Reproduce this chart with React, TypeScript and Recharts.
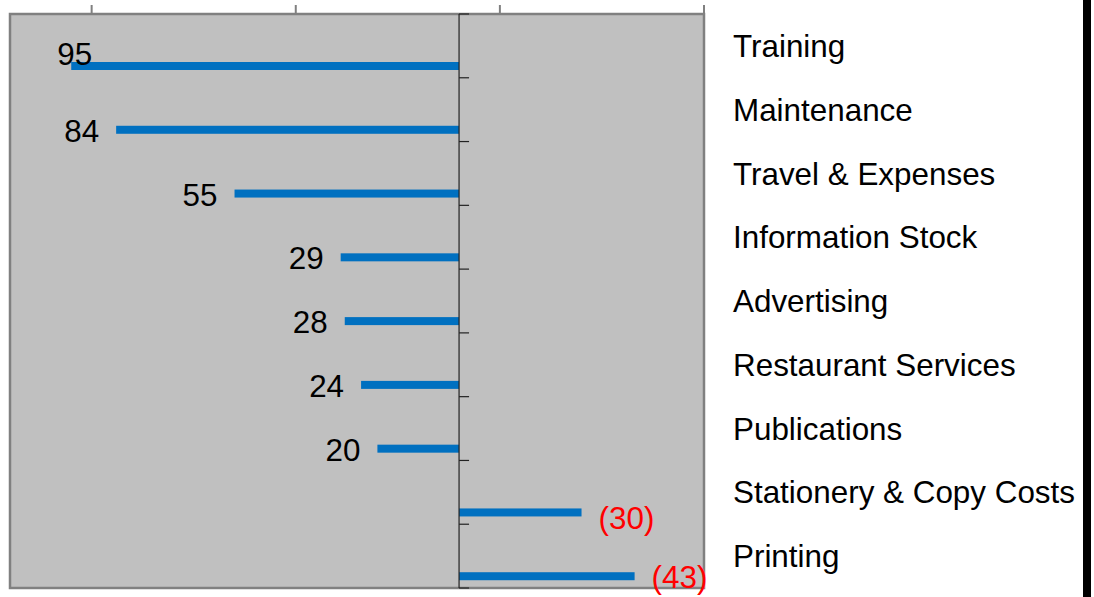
import React from "react";
import {
  BarChart,
  Bar,
  XAxis,
  YAxis,
  CartesianGrid,
  ReferenceLine,
  ReferenceArea,
  LabelList,
} from "recharts";

const categories = [
  "Training",
  "Maintenance",
  "Travel & Expenses",
  "Information Stock",
  "Advertising",
  "Restaurant Services",
  "Publications",
  "Stationery & Copy Costs",
  "Printing",
];
const values = [95, 84, 55, 29, 28, 24, 20, -30, -43];
const xTicks = [-60, -10, 40, 90];

const data = categories.map((name, i) => ({ name, value: values[i] }));

const FONT = '"Liberation Sans", Arial, sans-serif';
const BAR_SHIFT = 20; // bars sit in the lower part of each row, like the original
const rowCount = categories.length;

// small hand nudges for labels Excel moved
const labelNudge: Record<number, [number, number]> = {
  0: [38, -13],
  7: [0, 5],
};

const BarShape = (props: any) => {
  const { x, y, width, height, fill } = props;
  const left = Math.min(x, x + width);
  const w = Math.abs(width);
  return <rect x={left} y={y + BAR_SHIFT} width={w} height={Math.abs(height)} fill={fill} />;
};

const ValueLabel = (props: any) => {
  const { x, y, width, height, value, index } = props;
  const left = Math.min(x, x + width);
  const right = Math.max(x, x + width);
  const cy = y + height / 2 + BAR_SHIFT;
  const [dx, dy] = labelNudge[index] || [0, 0];
  const neg = value < 0;
  return (
    <text
      x={(neg ? right + 17 : left - 17) + dx}
      y={cy + 12 + dy}
      textAnchor={neg ? "start" : "end"}
      fontFamily={FONT}
      fontSize={31.4}
      fill={neg ? "#FF0000" : "#000000"}
    >
      {neg ? `(${Math.abs(value)})` : value}
    </text>
  );
};

const ZeroAxis = (props: any) => {
  const { x1, y1, x2, y2 } = props;
  const top = Math.min(y1, y2);
  const bottom = Math.max(y1, y2);
  const step = (bottom - top) / rowCount;
  return (
    <g>
      <line x1={x1} y1={top} x2={x2} y2={bottom} stroke="#222" strokeWidth={1.2} />
      {Array.from({ length: rowCount + 1 }, (_, k) => (
        <line
          key={k}
          x1={x1}
          x2={x1 + 10}
          y1={top + k * step}
          y2={top + k * step}
          stroke="#222"
          strokeWidth={1.2}
        />
      ))}
    </g>
  );
};

const NoTick = () => <g />;

export default function App() {
  return (
    <div
      style={{
        position: "fixed",
        left: 0,
        top: 0,
        width: 1094,
        height: 597,
        overflow: "hidden",
        background: "#fff",
      }}
    >
      <BarChart
        width={1094}
        height={597}
        data={data}
        layout="vertical"
        margin={{ top: 5, right: 0, bottom: 9, left: 10 }}
      >
        <CartesianGrid horizontal={false} vertical={false} fill="#C0C0C0" />
        <XAxis
          type="number"
          orientation="top"
          domain={[-60, 110]}
          reversed
          allowDataOverflow
          ticks={xTicks}
          interval={0}
          height={9}
          tick={NoTick}
          tickSize={9}
          tickLine={{ stroke: "#808080", strokeWidth: 2 }}
          axisLine={false}
        />
        <YAxis
          type="category"
          dataKey="name"
          orientation="right"
          width={390}
          interval={0}
          axisLine={false}
          tickLine={false}
          tickSize={0}
          tickMargin={29}
          tick={{ fontFamily: FONT, fontSize: 31.4, fill: "#000" }}
        />
        <ReferenceArea x1={-60} x2={110} fill="none" stroke="#808080" strokeWidth={2.5} />
        <Bar dataKey="value" fill="#0070C0" barSize={8} isAnimationActive={false} shape={BarShape}>
          <LabelList dataKey="value" content={ValueLabel} />
        </Bar>
        <ReferenceLine x={0} shape={ZeroAxis} />
      </BarChart>
      <div
        style={{
          position: "absolute",
          left: 1083,
          top: 0,
          width: 8,
          height: 597,
          background: "#000",
        }}
      />
    </div>
  );
}
